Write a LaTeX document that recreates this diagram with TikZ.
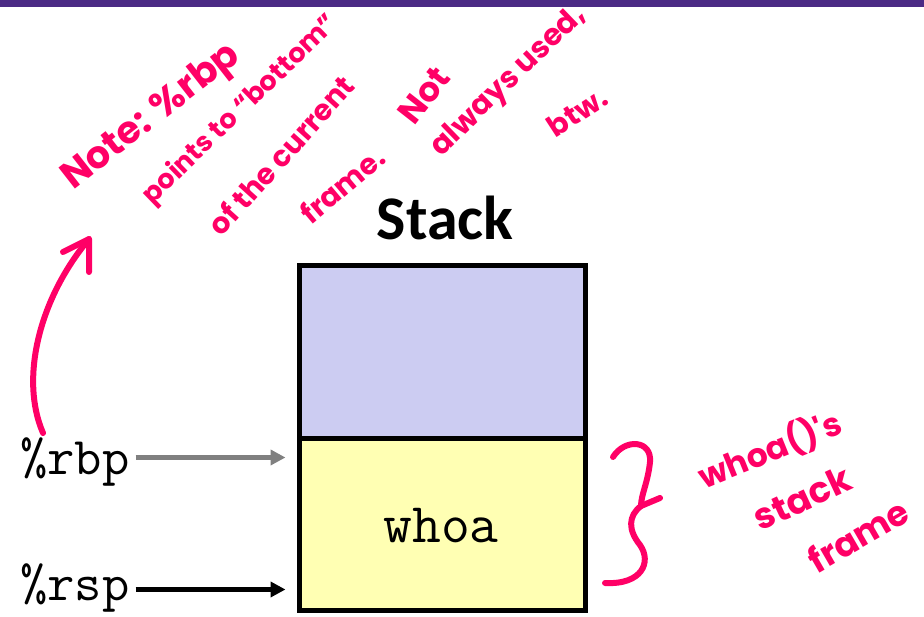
\documentclass[tikz,border=0pt]{standalone}
\usepackage{fontspec}
\usetikzlibrary{arrows.meta}
\newfontfamily\hand{Poppins}
\newfontfamily\stackfont{Carlito}
\definecolor{ink}{HTML}{FF0066}
\definecolor{barpurple}{HTML}{4B2A85}
\definecolor{lav}{HTML}{CCCCF2}
\definecolor{yel}{HTML}{FFFFB3}
\definecolor{arrgray}{HTML}{808080}
\tikzset{
  handtext/.style={text=ink, inner sep=0pt, anchor=center},
  inkline/.style={draw=ink, line width=6pt, line cap=round, line join=round},
  cell/.style={draw=black, line width=5pt, minimum width=286pt, inner sep=0pt},
  reg/.style={font=\ttfamily\fontsize{53}{53}\selectfont, inner sep=0pt, anchor=base west},
  ptr/.style={line width=4.5pt, -{Triangle[length=15pt,width=15pt]}, shorten >=11pt}
}
\newcommand{\hf}[1]{\hand\bfseries\fontsize{#1}{#1}\selectfont}
\begin{document}
\begin{tikzpicture}[x=1pt,y=-1pt]
\useasboundingbox (0,0) rectangle (924,617);
\fill[white] (0,0) rectangle (924,617);
\fill[barpurple] (0,0) rectangle (924,7);
% stack
\node[font=\stackfont\bfseries\fontsize{62}{62}\selectfont, anchor=base, inner sep=0pt] (title) at (445,240) {Stack};
\node[cell, fill=lav, minimum height=173pt] (upper) at (442,352.5) {};
\node[cell, fill=yel, minimum height=171pt] (lower) at (442,524.5) {};
\node[font=\ttfamily\fontsize{56}{56}\selectfont, anchor=base, inner sep=0pt] (whoa) at (441,542) {whoa};
% registers
\node[reg] (rbp) at (20,475) {\%rbp};
\node[reg] (rsp) at (20,600) {\%rsp};
\coordinate (rbpS) at ([xshift=6pt,yshift=5pt]rbp.east);
\coordinate (rspS) at ([xshift=6pt,yshift=-2pt]rsp.east);
\draw[ptr, arrgray] (rbpS) -- (lower.west |- rbpS);
\draw[ptr, black] (rspS) -- (lower.west |- rspS);
% handwritten note
\node[handtext, rotate=38, font=\hf{38}] (n1) at (152,118) {Note: \%rbp};
\node[handtext, rotate=44, font=\hf{27}] (n2) at (241,110) {points to “bottom”};
\node[handtext, rotate=48, font=\hf{29}] (n3) at (281,155) {of the current};
\node[handtext, rotate=40, font=\hf{29}] (n4) at (342,185) {frame.};
\node[handtext, rotate=52, font=\hf{34}] (n5) at (424,95) {Not};
\node[handtext, rotate=44, font=\hf{30}] (n6) at (509,82) {always used,};
\node[handtext, rotate=33, font=\hf{29}] (n7) at (577,112) {btw.};
\node[handtext, rotate=22, font=\hf{33}] (w1) at (770,450) {whoa()'s};
\node[handtext, rotate=25, font=\hf{36}] (w2) at (802,498) {stack};
\node[handtext, rotate=30, font=\hf{35}] (w3) at (858,535) {frame};
% curved arrow
\coordinate (aStart) at (43,433);
\coordinate (aTip) at (89,239);
\draw[inkline] (aStart) .. controls (20,380) and (38,300) .. (aTip);
\draw[inkline] (63,252) -- (aTip) -- (89,272);
% brace
\coordinate (bTop) at (613,457);
\coordinate (bMid) at (641,506);
\coordinate (bBot) at (605,583);
\draw[inkline] (bTop) .. controls (625,438) and (652,440) .. (650,462)
  .. controls (648,482) and (641,495) .. (bMid)
  .. controls (628,516) and (628,530) .. (640,545)
  .. controls (652,562) and (642,585) .. (bBot);
\draw[inkline] (bMid) -- (660,498);
\end{tikzpicture}
\end{document}
